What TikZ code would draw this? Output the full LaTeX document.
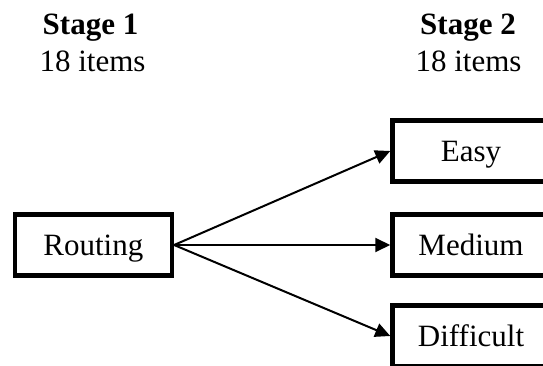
\documentclass[tikz,border=0pt]{standalone}
\usepackage{fontspec}
\setmainfont{Liberation Serif}
\usetikzlibrary{arrows.meta}
\begin{document}
\begin{tikzpicture}[x=1pt,y=-1pt,
  txt/.style={font=\fontsize{31}{37}\selectfont,inner sep=0pt,anchor=base},
  head/.style={font=\fontsize{31}{37}\selectfont\bfseries,inner sep=0pt,anchor=base},
  box/.style={draw,line width=4.5pt,minimum width=157pt,minimum height=61pt,
    inner sep=0pt,text height=21pt,text depth=0pt,font=\fontsize{31}{37}\selectfont},
  arr/.style={line width=2pt,-{Triangle[length=15pt,width=14pt]}}]
\clip (0,0) rectangle (543,366);
\fill[white] (0,0) rectangle (543,366);
\node[head] (s1) at (90.5,35) {Stage 1};
\node[txt] (n1) at (92.5,72) {18 items};
\node[head] (s2) at (468,35) {Stage 2};
\node[txt] (n2) at (468.5,72) {18 items};
\node[box] (route) at (93.35,245) {Routing};
\node[box] (easy) at (471,151) {Easy};
\node[box] (medium) at (471,245) {Medium};
\node[box] (difficult) at (471,336) {Difficult};
\draw[arr] (route.east) -- (easy.west);
\draw[arr] (route.east) -- (medium.west);
\draw[arr] (route.east) -- (difficult.west);
\end{tikzpicture}
\end{document}
